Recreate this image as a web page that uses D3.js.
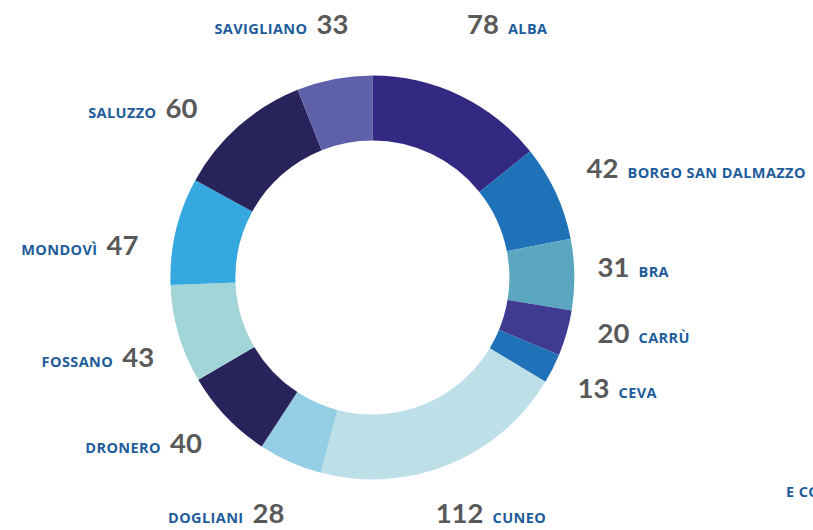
<!DOCTYPE html>
<html>
<head>
<meta charset="utf-8">
<script src="https://cdn.jsdelivr.net/npm/d3@7"></script>
<style>
  html, body { margin: 0; padding: 0; background: #ffffff; }
  svg { display: block; }
</style>
</head>
<body>
<svg id="chart" width="813" height="530"></svg>
<script>
// ---- Data ----
const categories = ["ALBA", "BORGO SAN DALMAZZO", "BRA", "CARRÙ", "CEVA", "CUNEO",
                    "DOGLIANI", "DRONERO", "FOSSANO", "MONDOVÌ", "SALUZZO", "SAVIGLIANO"];
const values = [78, 42, 31, 20, 13, 112, 28, 40, 43, 47, 60, 33];
const colors = ["#332882", "#1f71b8", "#5ba7bf", "#3e3b91", "#1f71b8", "#bddfe7",
                "#94cee4", "#29235c", "#a2d5d8", "#35a8e0", "#29235c", "#5e61aa"];
// clipped label from the neighbouring chart at the right edge
const extraLabel = "E CO";

// ---- Layout (label placement: angle offset from slice middle in degrees, radius) ----
const labelNudge = [
  { da: 1.7,   r: 285.1 },
  { da: 1.29,  r: 273.4 },
  { da: -1.41, r: 261.8 },
  { da: -3.92, r: 267.5 },
  { da: -2.19, r: 265.8 },
  { da: -4.07, r: 262.6 },
  { da: 3.78,  r: 266.6 },
  { da: 4.94,  r: 265.0 },
  { da: -0.98, r: 266.7 },
  { da: -6.48, r: 272.3 },
  { da: -9.87, r: 270.8 },
  { da: -2.56, r: 260.3 }
];
const baselineShift = 10;

const svg = d3.select("#chart");
const cx = 372.4, cy = 277.5, rOuter = 202, rInner = 137;
const g = svg.append("g").attr("transform", `translate(${cx},${cy})`);

const pie = d3.pie().sort(null).value(d => d.v);
const arc = d3.arc().innerRadius(rInner).outerRadius(rOuter);
const data = categories.map((c, i) => ({ name: c, v: values[i], color: colors[i] }));
const arcs = pie(data);

g.selectAll("path.slice").data(arcs).enter().append("path")
  .attr("class", "slice")
  .attr("d", arc)
  .attr("fill", d => d.data.color);

const numColor = "#595959", nameColor = "#1e5c9b";
const numFont = "Lato, 'Open Sans', sans-serif";
const nameFont = "'Open Sans', Lato, sans-serif";

arcs.forEach((d, i) => {
  const mid = (d.startAngle + d.endAngle) / 2 + labelNudge[i].da * Math.PI / 180;
  const r = labelNudge[i].r;
  const x = r * Math.sin(mid);
  const y = -r * Math.cos(mid) + baselineShift;
  const right = mid < Math.PI;
  const lg = g.append("g").attr("class", "label");
  lg.append("text")
    .attr("x", right ? x - 4.5 : x + 4.5)
    .attr("y", y)
    .attr("text-anchor", right ? "end" : "start")
    .attr("font-family", numFont).attr("font-weight", 700)
    .attr("font-size", 27.5).attr("fill", numColor)
    .text(d.data.v);
  lg.append("text")
    .attr("x", right ? x + 4.5 : x - 4.5)
    .attr("y", y)
    .attr("text-anchor", right ? "start" : "end")
    .attr("font-family", nameFont).attr("font-weight", 700)
    .attr("font-size", 14.5).attr("letter-spacing", 0.4).attr("fill", nameColor)
    .text(d.data.name);
});

svg.append("text")
  .attr("x", 786).attr("y", 497)
  .attr("font-family", nameFont).attr("font-weight", 700)
  .attr("font-size", 14.5).attr("letter-spacing", 0.4).attr("fill", nameColor)
  .text(extraLabel);
</script>
</body>
</html>
